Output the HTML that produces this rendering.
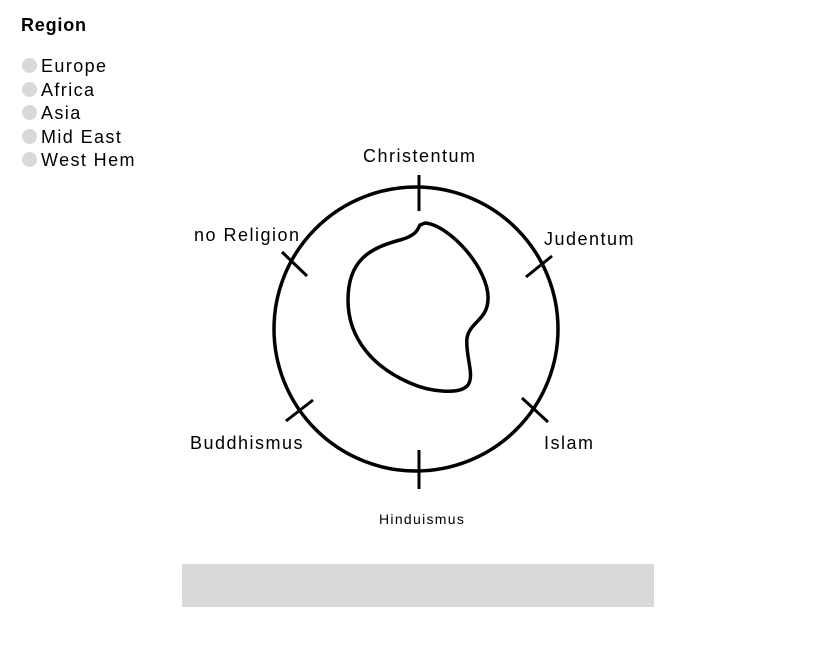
<!DOCTYPE html>
<html><head><style>
body{margin:0;width:826px;height:672px;background:#fff;font-family:"Liberation Sans",sans-serif;position:relative;overflow:hidden}
.t{position:absolute;font-size:18px;color:#000;letter-spacing:1.5px;white-space:nowrap}
.leg{position:absolute;left:22px;font-size:18px;line-height:23.5px;letter-spacing:1.4px}
.leg div{position:relative;padding-left:19px}
.leg div:before{content:"";position:absolute;left:0;top:3px;width:15px;height:15px;border-radius:50%;background:#d9d9d9}
</style></head><body>
<div class="t" style="left:21px;top:15px;font-weight:bold;letter-spacing:0.8px">Region</div>
<div class="leg" style="top:55px">
<div>Europe</div><div>Africa</div><div>Asia</div><div>Mid East</div><div>West Hem</div>
</div>
<svg width="826" height="672" style="position:absolute;left:0;top:0">
<circle cx="416" cy="329" r="142" fill="none" stroke="#000" stroke-width="3.5"/>
<g stroke="#000" stroke-width="3">
<line x1="419" y1="175" x2="419" y2="211"/>
<line x1="419" y1="450" x2="419" y2="489"/>
<line x1="282" y1="252" x2="307" y2="276"/>
<line x1="526" y1="277" x2="552" y2="256"/>
<line x1="286" y1="421" x2="313" y2="400"/>
<line x1="522" y1="398" x2="548" y2="422"/>
</g>
<path d="M425,223 C450,225 490,270 488,300 C487,320 470,322 467,338 C465,355 475,375 468,385 C460,395 430,392 410,383 C375,368 348,340 348,300 C348,260 370,248 400,240 C418,235 418,228 420,225 Z" fill="none" stroke="#000" stroke-width="3.5"/>
<rect x="182" y="564" width="472" height="43" fill="#d9d9d9"/>
</svg>
<div class="t" style="left:363px;top:146px">Christentum</div>
<div class="t" style="left:194px;top:225px">no Religion</div>
<div class="t" style="left:544px;top:229px">Judentum</div>
<div class="t" style="left:190px;top:433px">Buddhismus</div>
<div class="t" style="left:544px;top:433px">Islam</div>
<div class="t" style="left:379px;top:511px;font-size:14px;letter-spacing:1.3px">Hinduismus</div>
</body></html>
